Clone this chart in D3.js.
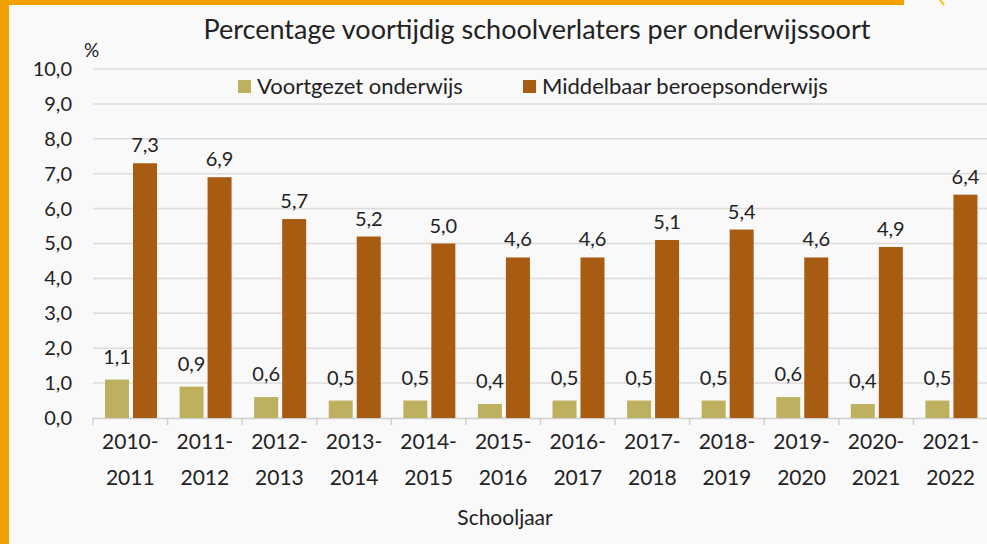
<!DOCTYPE html>
<html>
<head>
<meta charset="utf-8">
<script src="https://cdn.jsdelivr.net/npm/d3@7"></script>
<style>
  body { margin: 0; background: #f9f9f9; }
  svg { display: block; font-family: Lato, "Open Sans", sans-serif; }
</style>
</head>
<body>
<div id="chart"></div>
<script>
// Data
const years = ["2010-2011", "2011-2012", "2012-2013", "2013-2014", "2014-2015", "2015-2016",
               "2016-2017", "2017-2018", "2018-2019", "2019-2020", "2020-2021", "2021-2022"];
const seriesNames = ["Voortgezet onderwijs", "Middelbaar beroepsonderwijs"];
const voValues = [1.1, 0.9, 0.6, 0.5, 0.5, 0.4, 0.5, 0.5, 0.5, 0.6, 0.4, 0.5];
const mboValues = [7.3, 6.9, 5.7, 5.2, 5.0, 4.6, 4.6, 5.1, 5.4, 4.6, 4.9, 6.4];
const yTicks = [0, 1, 2, 3, 4, 5, 6, 7, 8, 9, 10];
const colors = ["#bdb160", "#a85c12"];

const width = 987, height = 544;
const textColor = "#222";
const labelGap = [16, 11]; // label distance above bar, per series
const fmt = v => d3.format(".1f")(v).replace(".", ",");

const svg = d3.select("#chart").append("svg")
    .attr("width", width)
    .attr("height", height);

// background + orange frame bits
svg.append("rect").attr("width", width).attr("height", height).attr("fill", "#f9f9f9");
svg.append("rect").attr("x", 0).attr("y", 0).attr("width", 9).attr("height", height).attr("fill", "#f0a000");
svg.append("rect").attr("x", 0).attr("y", 0).attr("width", 904).attr("height", 5).attr("fill", "#f0a000");
svg.append("line").attr("x1", 940).attr("y1", 0).attr("x2", 944).attr("y2", 5)
    .attr("stroke", "#f2c200").attr("stroke-width", 2);

// Scales
const x = d3.scaleBand().domain(years).range([93, 988]);
const xs = d3.scaleBand().domain(seriesNames).range([12, 64]).paddingInner(4 / 28);
const y = d3.scaleLinear().domain([0, 10]).range([418, 69]);

// Gridlines
svg.append("g").selectAll("line")
    .data(yTicks.slice(1))
    .enter().append("line")
    .attr("x1", 93).attr("x2", width)
    .attr("y1", d => y(d)).attr("y2", d => y(d))
    .attr("stroke", "#dcdcdc")
    .attr("stroke-width", 1.5);

// Y axis labels
const yAxis = svg.append("g")
    .attr("transform", "translate(93,0)")
    .call(d3.axisLeft(y).tickValues(yTicks).tickFormat(fmt).tickSize(0).tickPadding(21));
yAxis.select(".domain").remove();
yAxis.selectAll("text").attr("font-size", 20).attr("fill", textColor)
    .attr("font-family", "Lato, sans-serif");

// X axis
const xAxis = svg.append("g")
    .attr("transform", `translate(0,${y(0)})`)
    .call(d3.axisBottom(x).tickSize(0).tickFormat(""));
xAxis.select(".domain").attr("stroke", "#d0d0d0").attr("stroke-width", 1.5);
xAxis.selectAll(".tick").remove();

// band boundary tick marks
svg.append("g").selectAll("line")
    .data(years)
    .enter().append("line")
    .attr("x1", d => x(d)).attr("x2", d => x(d))
    .attr("y1", y(0)).attr("y2", y(0) + 7)
    .attr("stroke", "#d0d0d0")
    .attr("stroke-width", 1.5);

// category labels in two lines
const catLabels = svg.append("g").selectAll("text")
    .data(years)
    .enter().append("text")
    .attr("text-anchor", "middle")
    .attr("font-size", 21)
    .attr("fill", textColor);
catLabels.append("tspan")
    .attr("x", d => x(d) + x.bandwidth() / 2)
    .attr("y", 449)
    .text(d => d.split("-")[0] + "-");
catLabels.append("tspan")
    .attr("x", d => x(d) + x.bandwidth() / 2)
    .attr("y", 485)
    .text(d => d.split("-")[1]);

// Bars
const rows = years.map((yr, i) => ({year: yr, values: [voValues[i], mboValues[i]]}));

const groups = svg.append("g").selectAll("g")
    .data(rows)
    .enter().append("g")
    .attr("transform", d => `translate(${x(d.year)},0)`);

groups.selectAll("rect")
    .data(d => d.values.map((v, j) => ({name: seriesNames[j], value: v, j})))
    .enter().append("rect")
    .attr("x", d => xs(d.name))
    .attr("width", xs.bandwidth())
    .attr("y", d => y(d.value))
    .attr("height", d => y(0) - y(d.value))
    .attr("fill", d => colors[d.j]);

groups.selectAll("text.val")
    .data(d => d.values.map((v, j) => ({name: seriesNames[j], value: v, j})))
    .enter().append("text")
    .attr("class", "val")
    .attr("x", d => xs(d.name) + xs.bandwidth() / 2)
    .attr("y", d => y(d.value) - labelGap[d.j])
    .attr("text-anchor", "middle")
    .attr("font-size", 20)
    .attr("fill", textColor)
    .text(d => fmt(d.value));

// Title
svg.append("text")
    .attr("x", 537).attr("y", 39)
    .attr("text-anchor", "middle")
    .attr("font-size", 27)
    .attr("fill", textColor)
    .text("Percentage voortijdig schoolverlaters per onderwijssoort");

// % unit
svg.append("text")
    .attr("x", 84).attr("y", 57)
    .attr("font-size", 19)
    .attr("fill", textColor)
    .text("%");

// Legend
const legendPos = [238, 523];
const legend = svg.append("g").selectAll("g")
    .data(seriesNames)
    .enter().append("g")
    .attr("transform", (d, i) => `translate(${legendPos[i]},80)`);
legend.append("rect")
    .attr("width", 13).attr("height", 13)
    .attr("fill", (d, i) => colors[i]);
legend.append("text")
    .attr("x", 19).attr("y", 14)
    .attr("font-size", 22)
    .attr("fill", textColor)
    .text(d => d);

// Axis title
svg.append("text")
    .attr("x", 505).attr("y", 525)
    .attr("text-anchor", "middle")
    .attr("font-size", 21)
    .attr("fill", textColor)
    .text("Schooljaar");
</script>
</body>
</html>
